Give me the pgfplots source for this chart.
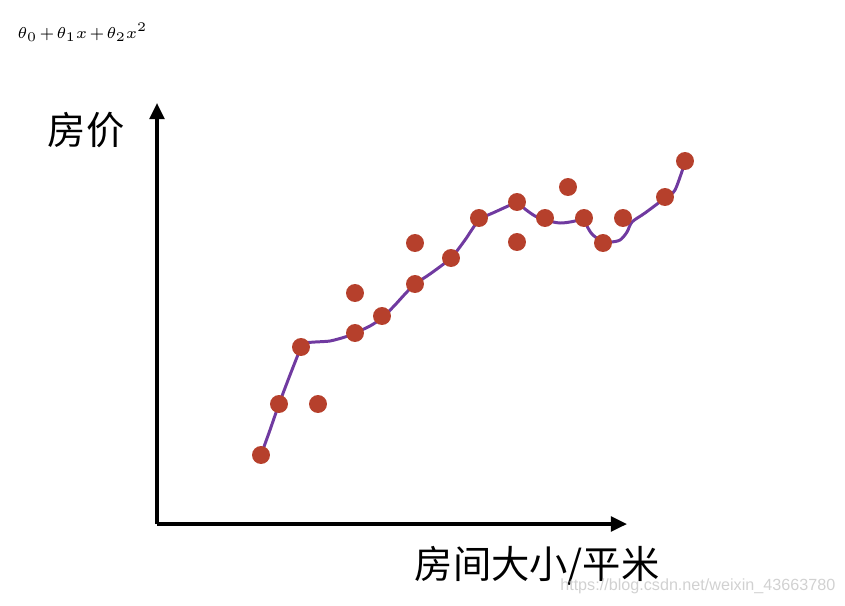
\documentclass[border=0pt]{standalone}
\usepackage{graphicx}
\usepackage{pgfplots}
\pgfplotsset{compat=1.18}
\usepackage{fontspec}
\newfontfamily\cjk{Noto Sans CJK SC}
\setsansfont{Liberation Sans}
\usetikzlibrary{arrows.meta}
\definecolor{dotred}{RGB}{182,64,44}
\definecolor{curvepurple}{RGB}{112,58,160}
\begin{document}
\begin{tikzpicture}
\useasboundingbox (0,0) rectangle (8.45cm,6.05cm);
\begin{axis}[
  at={(0,0)}, anchor=south west,
  scale only axis, width=8.45cm, height=6.05cm,
  xmin=0, xmax=845, ymin=0, ymax=605, y dir=reverse,
  axis lines=none, clip=false,
]
% axes
\draw[line width=0.9pt, -{Triangle[length=4.6pt,width=4.2pt]}] (axis cs:157,524) -- (axis cs:157,103);
\draw[line width=0.9pt, -{Triangle[length=4.6pt,width=4.2pt]}] (axis cs:157,524) -- (axis cs:627,524);
% fitted curve
\addplot[curvepurple, line width=0.85pt, smooth, tension=0.3] coordinates {
(261,455) (270,430) (279,404) (290,375) (301,347)
};
\addplot[curvepurple, line width=0.85pt, smooth, tension=0.4] coordinates {
(301,347) (305,343) (315,342) (330,341) (345,337) (355,333) (370,326) (382,318) (395,305) (405,294) (415,284) (430,274) (451,258) (465,240) (479,220) (495,212) (517,202)
};
\addplot[curvepurple, line width=0.85pt, smooth, tension=0.5] coordinates {
(517,202) (525,209) (535,216) (545,220) (560,223) (575,221) (584,217)
};
\addplot[curvepurple, line width=0.85pt, smooth, tension=0.5] coordinates {
(584,217) (587,226) (592,234) (600,240) (610,242) (620,240) (627,232) (632,222) (645,213) (665,198) (675,190) (685,162)
};
% data points
\addplot[only marks, mark=*, mark size=2.35pt, mark options={draw=dotred, fill=dotred}] coordinates {
(261,455) (279,404) (301,347) (318,404) (355,333) (355,293) (382,316)
(415,243) (415,284) (451,258) (479,218) (517,202) (517,242) (545,218)
(568,187) (584,218) (603,243) (623,218) (665,197) (685,161)
};
% texts
\node[anchor=west, inner sep=0pt, font=\fontsize{5.7}{6.8}\selectfont] at (axis cs:17,32) {\scalebox{0.75}{\medmuskip=2mu $\theta_0+\theta_1x+\theta_2x^2$}};
\node[anchor=center, inner sep=0pt, font=\cjk\fontsize{10.9}{13}\selectfont] at (axis cs:86,130) {房价};
\node[anchor=west, inner sep=0pt, font=\cjk\fontsize{10.9}{13}\selectfont] at (axis cs:414,566) {房间大小/平米};
\node[anchor=east, inner sep=0pt, text=black!18, font=\sffamily\fontsize{4.6}{5.5}\selectfont] at (axis cs:836,586) {https://blog.csdn.net/weixin\_43663780};
\end{axis}
\end{tikzpicture}
\end{document}
